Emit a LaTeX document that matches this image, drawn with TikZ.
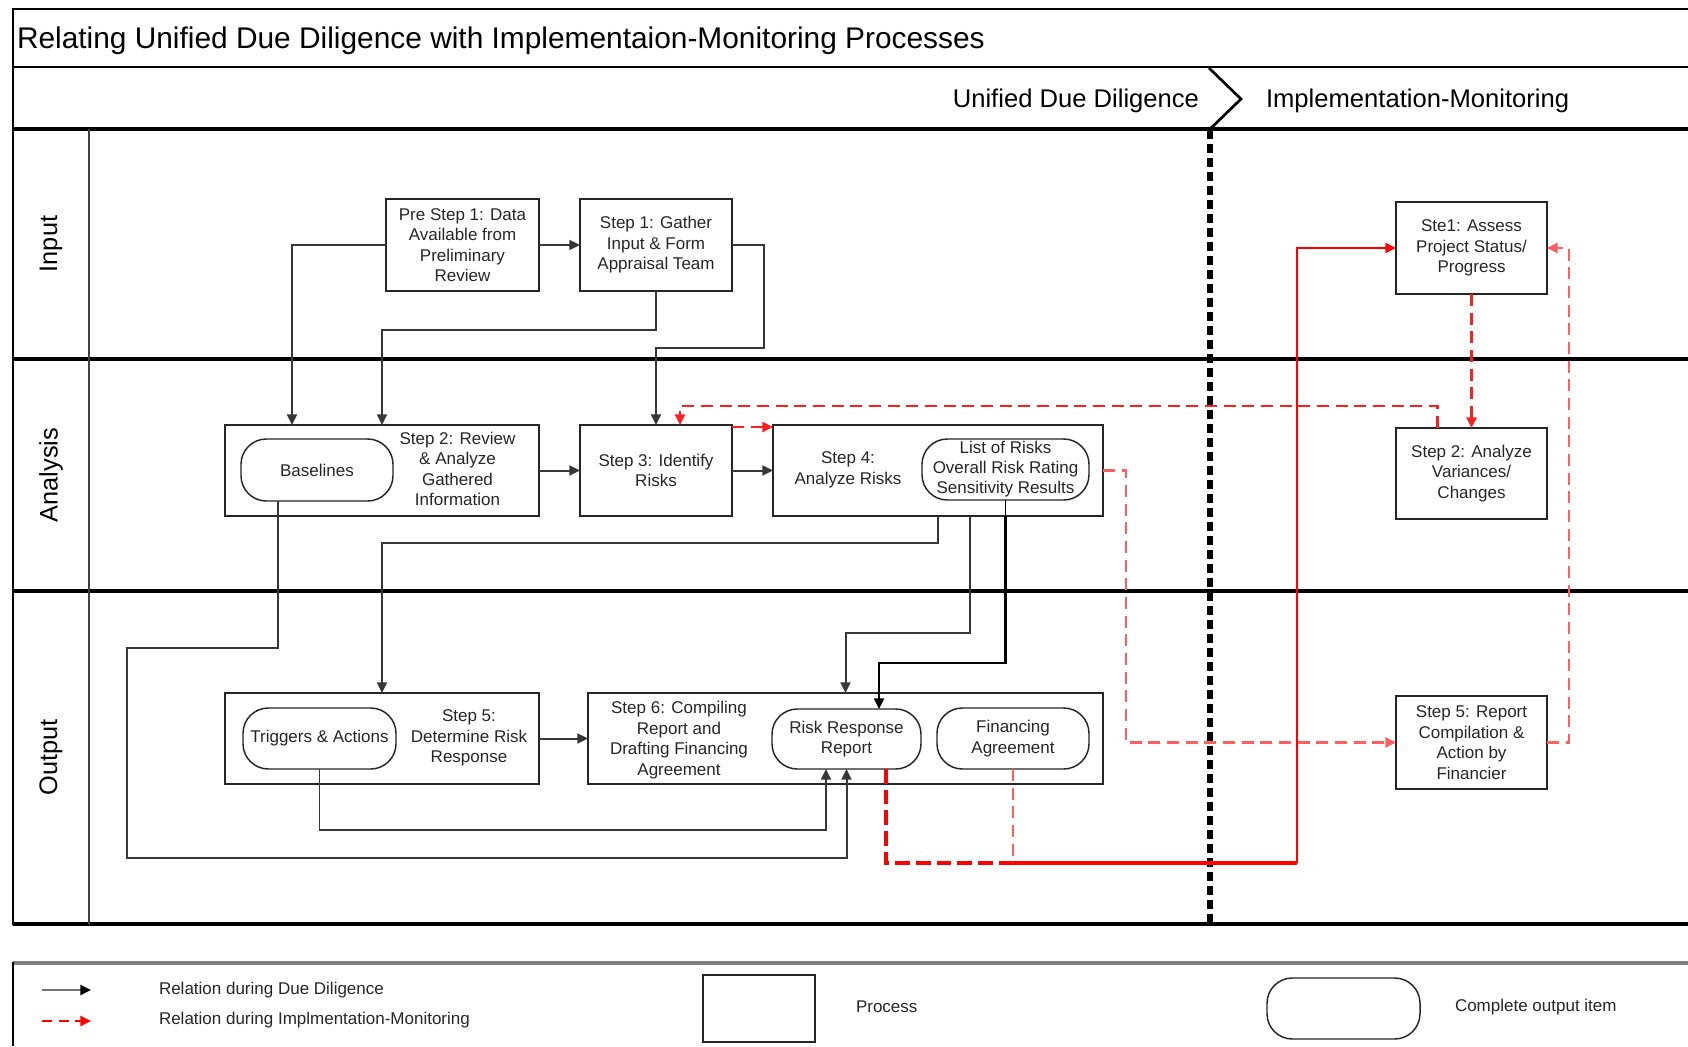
\documentclass[tikz,border=0pt]{standalone}
\usepackage{fontspec}
\setmainfont{Liberation Sans}
\usetikzlibrary{arrows.meta,calc}
\definecolor{impred}{RGB}{255,95,95}
\definecolor{brightred}{RGB}{255,30,30}
\definecolor{lineg}{RGB}{55,55,55}
\begin{document}
\begin{tikzpicture}[x=0.75pt,y=-0.75pt,
  every node/.style={inner sep=0pt,outer sep=0pt},
  bfont/.style={font=\fontsize{12.75}{15.4}\selectfont},
  txt/.style={bfont,align=center,text=black!85},
  proc/.style 2 args={draw=black!85,line width=1.4pt,fill=white,txt,minimum width=#1,minimum height=#2},
  pill/.style 2 args={draw=black!85,line width=1.1pt,fill=white,rounded corners=19pt,txt,minimum width=#1,minimum height=#2},
  lanelbl/.style={rotate=90,font=\fontsize{19}{22}\selectfont},
  hdr/.style={font=\fontsize{19.2}{22}\selectfont},
  tip/.style={-{Triangle[length=8pt,width=7.5pt]}},
  dd/.style={draw=lineg,line width=1.5pt,tip},
  im/.style={draw=impred,line width=1.8pt,dash pattern=on 9pt off 5pt,tip},
  imb/.style={draw=brightred,line width=1.8pt,dash pattern=on 9pt off 5pt,tip},
  lane/.style={line width=2.6pt,black}
]
\useasboundingbox (0,0) rectangle (1688,1046);
\fill[white] (0,0) rectangle (1688,1046);

% ---- frame and lanes ----
\draw[line width=1.5pt] (13,9) -- (1688,9);
\draw[line width=1.2pt] (13,67) -- (1688,67);
\draw[lane] (13,129) -- (1688,129);
\draw[lane] (13,359) -- (1688,359);
\draw[lane] (13,591) -- (1688,591);
\draw[lane] (13,924) -- (1688,924);
\draw[line width=2.2pt] (13,8) -- (13,925);
\draw[line width=1.5pt,black!75] (89,129) -- (89,924);

\node[anchor=west,font=\fontsize{22.4}{26}\selectfont] (title) at (17,41) {Relating Unified Due Diligence with Implementaion-Monitoring Processes};
\node[hdr,anchor=east] (udd) at (1199,101) {Unified Due Diligence};
\node[hdr,anchor=west] (imm) at (1266,101) {Implementation-Monitoring};
\draw[line width=2pt] (1209,68) -- (1241,99) -- (1209,130);
\draw[line width=3.8pt,dash pattern=on 6.75pt off 3.75pt] (1210,130) -- (1210,924);

\node[lanelbl] (linput) at (51,244) {Input};
\node[lanelbl] (lanalysis) at (51,475) {Analysis};
\node[lanelbl] (loutput) at (51,757) {Output};

% ---- nodes ----
\node[proc={114.75pt}{69pt}] (pre) at (462.5,245) {Pre Step 1: Data\\Available from\\Preliminary\\Review};
\node[proc={114pt}{69pt}] (s1) at (656,245) {Step 1: Gather\\Input \& Form\\Appraisal Team};

\node[proc={235.5pt}{68.25pt}] (s2) at (382,470.5) {};
\node[pill={114pt}{46.5pt}] (base) at (317,470) {Baselines};
\node[txt] (s2t) at (457.5,469) {Step 2: Review\\\& Analyze\\Gathered\\Information};

\node[proc={114pt}{68.25pt}] (s3) at (656,470.5) {Step 3: Identify\\Risks};

\node[proc={247.5pt}{68.25pt}] (s4) at (938,470.5) {};
\node[txt] (s4t) at (848,470) {Step 4:\\Analyze Risks};
\node[pill={125.25pt}{45.75pt},font=\fontsize{12.75}{15}\selectfont] (risks) at (1005.5,469.5) {List of Risks\\Overall Risk Rating\\Sensitivity Results};

\node[proc={235.5pt}{68.25pt}] (s5) at (382,738.5) {};
\node[pill={114.75pt}{45.75pt}] (trig) at (319.5,738.5) {Triggers \& Actions};
\node[txt] (s5t) at (469,738) {Step 5:\\Determine Risk\\Response};

\node[proc={386.25pt}{68.25pt}] (s6) at (845.5,738.5) {};
\node[txt] (s6t) at (679,740) {Step 6: Compiling\\Report and\\Drafting Financing\\Agreement};
\node[pill={111.75pt}{45pt}] (rrr) at (846.5,739) {Risk Response\\Report};
\node[pill={114pt}{45.75pt}] (fin) at (1013,738.5) {Financing\\Agreement};

\node[proc={113.25pt}{69pt}] (as) at (1471.5,248) {Ste1: Assess\\Project Status/\\Progress};
\node[proc={113.25pt}{68.25pt}] (an) at (1471.5,473.5) {Step 2: Analyze\\Variances/\\Changes};
\node[proc={113.25pt}{69.75pt}] (rep) at (1471.5,742.5) {Step 5: Report\\Compilation \&\\Action by\\Financier};

% ---- due diligence connectors ----
\draw[dd] (pre.west) -| (s2.north -| 292,0);
\draw[dd] (pre.east) -- (s1.west);
\draw[dd] (s1.south) -- ++(0,39) -| (s2.north);
\draw[dd] (s1.east) -- ++(32,0) -- ++(0,103) -| (s3.north);
\draw[dd] (s2.east) -- (s3.west);
\draw[dd] (s3.east) -- (s4.west);
\draw[dd] (s4.south) -- ++(0,27) -| (s5.north);
\draw[dd] ([xshift=24pt]s4.south) -- ++(0,117) -| (s6.north);
\draw[line width=1pt,black] (risks.south) -- (risks.south |- s4.south);
\draw[dd,draw=black,line width=1.8pt] (risks.south |- s4.south) -- ++(0,147) -| ([xshift=24.4pt]rrr.north);
\draw[dd] (s5.east) -- (s6.west);
\draw[dd,line width=1.3pt] (trig.south) -- ++(0,61) -| ([xshift=-15.4pt]rrr.south);
\draw[dd] ([xshift=-29.25pt]base.south) -- ++(0,147) -| (127,858) -| (rrr.south);

% ---- implementation-monitoring connectors ----
\draw[imb] ([yshift=-1.5pt]s3.north east) -- ([yshift=-1.5pt]s4.north west);
\draw[imb] ([xshift=-25.5pt]an.north) -- ++(0,-22) -| ([xshift=18pt]s3.north);
\draw[im] (s4.east) -- ++(23,0) |- (rep.west);
\draw[draw=red,line width=2.3pt,dash pattern=on 11pt off 4.5pt] ([xshift=29.6pt]rrr.south) |- (fin.south |- 0,863);
\draw[draw=impred,line width=1.6pt,dash pattern=on 9pt off 5pt] (fin.south) -- (fin.south |- 0,863);
\coordinate (corner) at (1297,863);
\draw[red,line width=2.3pt] (fin.south |- 0,863) -- (corner);
\draw[red,line width=1.4pt,tip] (corner) |- (as.west);
\draw[imb] (as.south) -- (an.north);
\draw[im] (rep.east) -- ++(22,0) |- (as.east);

% ---- legend ----
\draw[line width=2.4pt,black!50] (13,963) -- (1688,963);
\draw[line width=2.2pt] (13,962) -- (13,1046);
\coordinate (la1) at (42,990);
\coordinate (la2) at (91,990);
\coordinate (lb1) at (42,1021);
\coordinate (lb2) at (91,1021);
\draw[draw=black!55,line width=1.8pt,-{Triangle[length=8pt,width=7.5pt,color=black]}] (la1) -- (la2);
\draw[draw=red,line width=1.8pt,dash pattern=on 7.5pt off 5pt,-{Triangle[length=8pt,width=7.5pt]}] (lb1) -- (lb2);
\node[bfont,anchor=west,text=black!85] (lt1) at (159,990) {Relation during Due Diligence};
\node[bfont,anchor=west,text=black!85] (lt2) at (159,1020) {Relation during Implmentation-Monitoring};
\node[draw=black!85,line width=1.2pt,minimum width=84pt,minimum height=50.25pt] (lproc) at (759,1008.5) {};
\node[bfont,anchor=west,text=black!85] (lproct) at (856,1007) {Process};
\node[draw=black!85,line width=1.1pt,rounded corners=19pt,minimum width=114.75pt,minimum height=45.75pt] (lpill) at (1343.5,1008.5) {};
\node[bfont,anchor=west,text=black!85] (lpillt) at (1455,1007) {Complete output item};
\end{tikzpicture}
\end{document}
